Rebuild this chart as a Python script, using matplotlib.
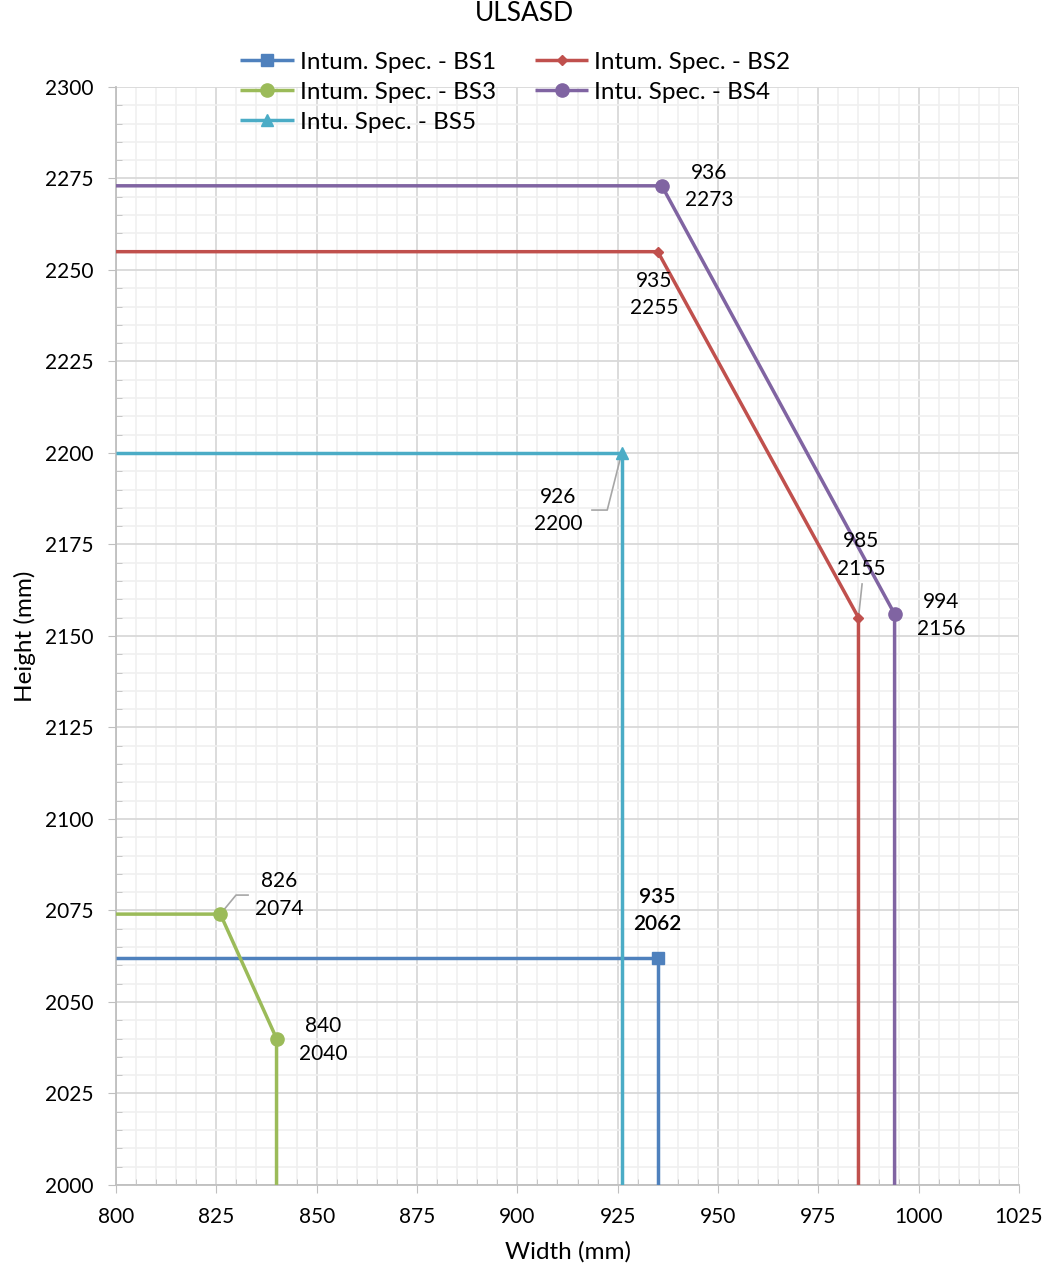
import matplotlib
matplotlib.use("Agg")
from matplotlib import pyplot as plt
from matplotlib.ticker import MultipleLocator

plt.rcParams["font.family"] = ["Lato", "DejaVu Sans"]

# series: (width, height) vertices, last point drops to the x axis
names = ["Intum. Spec. - BS1", "Intum. Spec. - BS2", "Intum. Spec. - BS3",
         "Intu. Spec. - BS4", "Intu. Spec. - BS5"]
bs1_x = [800, 935, 935]
bs1_y = [2062, 2062, 2000]
bs2_x = [800, 935, 985, 985]
bs2_y = [2255, 2255, 2155, 2000]
bs3_x = [800, 826, 840, 840]
bs3_y = [2074, 2074, 2040, 2000]
bs4_x = [800, 936, 994, 994]
bs4_y = [2273, 2273, 2156, 2000]
bs5_x = [800, 926, 926]
bs5_y = [2200, 2200, 2000]

colors = ["#4F81BD", "#C0504D", "#9BBB59", "#8064A2", "#4BACC6"]
markers = ["s", "D", "o", "o", "^"]
msizes = [8.5, 5, 9.5, 9.5, 8.5]
marked = [[1], [1, 2], [1, 2], [1, 2], [1]]
xs = [bs1_x, bs2_x, bs3_x, bs4_x, bs5_x]
ys = [bs1_y, bs2_y, bs3_y, bs4_y, bs5_y]

fig = plt.figure(figsize=(10.49, 12.68), dpi=100)
ax = fig.add_axes([0.1106, 0.0655, 0.8608, 0.8659])

lines = []
for x, y, c, m, ms, me, n in zip(xs, ys, colors, markers, msizes, marked, names):
    (ln,) = ax.plot(x, y, color=c, lw=2.5, marker=m, ms=ms, markevery=me,
                    label=n, zorder=5, solid_capstyle="butt")
    lines.append(ln)

ax.set_xlim(800, 1025)
ax.set_ylim(2000, 2300)
ax.xaxis.set_major_locator(MultipleLocator(25))
ax.xaxis.set_minor_locator(MultipleLocator(5))
ax.yaxis.set_major_locator(MultipleLocator(25))
ax.yaxis.set_minor_locator(MultipleLocator(5))
ax.grid(True, which="major", color="#D9D9D9", lw=1.3, zorder=0)
ax.grid(True, which="minor", color="#F0F0F0", lw=1.2, zorder=0)
ax.set_axisbelow(True)
for s in ["top", "right"]:
    ax.spines[s].set_visible(False)
for s in ["left", "bottom"]:
    ax.spines[s].set_color("#BFBFBF")
    ax.spines[s].set_linewidth(1.3)
ax.tick_params(which="major", length=6, color="#BFBFBF", labelsize=15)
ax.tick_params(axis="y", which="major", pad=10)
ax.tick_params(axis="x", which="major", pad=10)
ax.tick_params(which="minor", length=4, direction="in", color="#BFBFBF")
ax.set_xlabel("Width (mm)", fontsize=17.5, labelpad=10)
ax.set_ylabel("Height (mm)", fontsize=17.5, labelpad=7)
fig.suptitle("ULSASD", fontsize=19, y=0.9995, va="top")

# data labels (text centre in data coords)
labels = [
    (947.8, 2272.7, "936\n2273"),
    (934.1, 2243.4, "935\n2255"),
    (910.1, 2184.2, "926\n2200"),
    (985.6, 2172.1, "985\n2155"),
    (1005.6, 2155.7, "994\n2156"),
    (840.6, 2079.2, "826\n2074"),
    (851.6, 2039.6, "840\n2040"),
    (934.8, 2074.9, "935\n2062"),
]
for tx, ty, t in labels:
    w = "semibold" if t == "935\n2062" else "normal"
    ax.text(tx, ty, t, ha="center", va="center", fontsize=15,
            linespacing=1.45, zorder=6, fontweight=w)

# leader lines
lead = "#A6A6A6"
ax.plot([926, 922.4, 918.6], [2200, 2184.4, 2184.4], color=lead, lw=1.2, zorder=4)
ax.plot([985, 985.9], [2155, 2164.2], color=lead, lw=1.2, zorder=4)
ax.plot([826, 829.9, 832.9], [2074, 2079.2, 2079.2], color=lead, lw=1.2, zorder=4)

order = [0, 2, 4, 1, 3]
fig.legend([lines[i] for i in order], [names[i] for i in order], ncol=2,
           loc="upper left", bbox_to_anchor=(0.229, 0.959), frameon=False,
           fontsize=17.5, handlelength=2.2, handletextpad=0.25, columnspacing=1.6,
           labelspacing=0.36, borderaxespad=0, borderpad=0)

fig.savefig("out.png", dpi=100)
